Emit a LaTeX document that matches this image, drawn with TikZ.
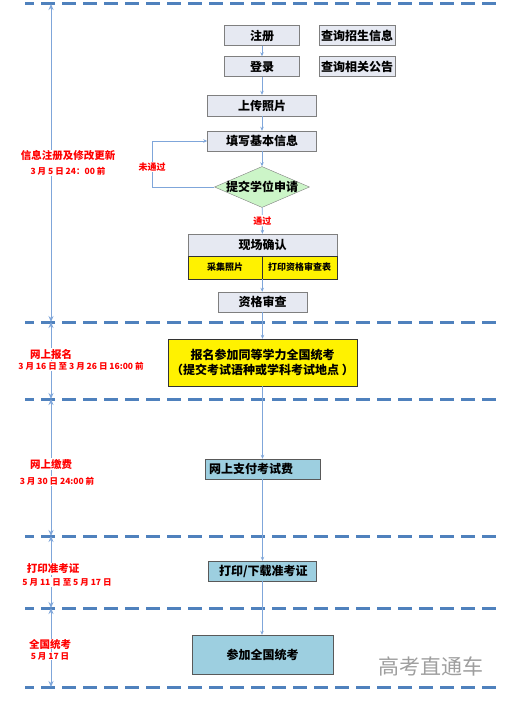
\documentclass[tikz,border=0pt]{standalone}
\usepackage{fontspec}
\usetikzlibrary{arrows.meta,positioning,shapes.geometric}
\newfontfamily\cjk{Noto Sans CJK SC}
\definecolor{boxgray}{HTML}{E6E9F2}
\definecolor{bordgray}{HTML}{7F7F7F}
\definecolor{boxgreen}{HTML}{CCF5C8}
\definecolor{boxblue}{HTML}{9DCFE0}
\definecolor{sepblue}{HTML}{4F81BD}
\definecolor{lineblue}{HTML}{7FA6DA}

\begin{document}
\begin{tikzpicture}[
  x=1pt, y=-1pt,
  base/.style={draw=bordgray, inner sep=0pt, font=\cjk\bfseries\fontsize{12}{15}\selectfont},
  graybox/.style={base, fill=boxgray, minimum height=20pt},
  yelbox/.style={base, draw=black!80, fill=yellow},
  bluebox/.style={base, draw=black!65, fill=boxblue, minimum height=20pt},
  decide/.style={shape=diamond, draw=bordgray, fill=boxgreen, inner sep=0pt, minimum width=95pt, minimum height=41pt},
  boxtext/.style={inner sep=0pt, font=\cjk\bfseries\fontsize{12}{15}\selectfont},
  flow/.style={-{Stealth[length=4pt,width=3.5pt]}, draw=lineblue, line width=0.8pt},
  span/.style={{Stealth[length=6pt,width=5pt]}-{Stealth[length=6pt,width=5pt]}, draw=lineblue, line width=1pt},
  sep/.style={draw=sepblue, line width=3pt, dash pattern=on 14pt off 7pt, dash phase=5pt},
  note/.style={text=red, fill=white, inner sep=1pt, font=\cjk\bfseries\fontsize{9}{10}\selectfont},
  stage/.style={text=red, fill=white, inner sep=1pt, align=center, font=\cjk\bfseries\fontsize{10.5}{15}\selectfont},
  date/.style={text=red, fill=white, inner sep=1pt, font=\cjk\bfseries\fontsize{8.5}{10}\selectfont},
  wmstyle/.style={text=black!38, font=\cjk\fontsize{21}{21}\selectfont}
]
\useasboundingbox (0,0) rectangle (515,706);

% --- Trennlinien ---
\foreach \y [count=\i] in {4,322,399,536,608,687} {
  \coordinate (dl\i) at (25,\y);
  \coordinate (dr\i) at (500,\y);
  \draw[sep] (dl\i) -- (dr\i);
  \coordinate (t\i) at (51,\y);
}

% --- Zeitraeume ---
\foreach \a/\b in {1/2,2/3,3/4,4/5,5/6}
  \draw[span] (t\a) -- (t\b);

\node[stage] (s1) at (68,163) {信息注册及修改更新\\{\fontsize{8.5}{10}\selectfont 3 月 5 日 24：00 前}};
\node[stage] (s2) at (51,354) {网上报名};
\node[date]  (d2) at (81,366) {3 月 16 日 至 3 月 26 日 16:00 前};
\node[stage] (s3) at (51,464) {网上缴费};
\node[date]  (d3) at (57,481) {3 月 30 日 24:00 前};
\node[stage] (s4) at (53,569) {打印准考证};
\node[date]  (d4) at (67,582) {5 月 11 日 至 5 月 17 日};
\node[stage, inner sep=0pt] (s5) at (50,644) {全国统考};
\node[date, inner sep=0pt]  (d5) at (50,656) {5 月 17 日};

% --- Ablauf ---
\node[graybox, minimum width=75pt] (reg)   at (262,35.5) {注册};
\node[graybox, minimum width=76pt] (qinfo) at (357,35.5) {查询招生信息};
\node[graybox, minimum width=75pt] (login) at (262,66.5) {登录};
\node[graybox, minimum width=76pt] (qnews) at (357,66.5) {查询相关公告};
\node[graybox, minimum width=109pt, minimum height=21pt] (upload) at (262,105.5) {上传照片};
\node[graybox, minimum width=109pt] (fill) at (262,141) {填写基本信息};

\node[decide] (apply) at (262,187) {};
\node[boxtext] (applytxt) at (apply) {提交学位申请};

\node[graybox, minimum width=149pt, minimum height=22pt] (onsite) at (262.5,245) {现场确认};
\node[yelbox, minimum width=74pt, minimum height=23pt, font=\cjk\bfseries\fontsize{9}{10}\selectfont] (collect) at (225,267.5) {采集照片};
\node[yelbox, minimum width=75pt, minimum height=23pt, font=\cjk\bfseries\fontsize{9}{10}\selectfont] (printq) at (299.5,267.5) {打印资格审查表};
\node[graybox, minimum width=89pt] (review) at (262.5,302) {资格审查};

\node[yelbox, minimum width=189pt, minimum height=47pt, align=center] (enroll) at (262.5,362.5) {报名参加同等学力全国统考\\（提交考试语种或学科考试地点 ）};
\node[bluebox, minimum width=115pt, text width=107pt, align=left] (pay) at (262.5,469) {网上支付考试费};
\node[bluebox, minimum width=108pt] (admit) at (262,571) {\ 打印/下载准考证};
\node[bluebox, minimum width=141pt, minimum height=39pt] (exam) at (262.5,654.5) {参加全国统考};

% Pfeile
\draw[flow] (reg) -- (login);
\draw[flow] (login) -- (upload);
\draw[flow] (upload) -- (fill);
\draw[flow] (fill) -- (apply);
\draw[flow] (apply) -- node[note] (passlab) {通过} (onsite);
\coordinate (loopc) at (152,187);
\draw[flow] (apply.west) -- (loopc) |- (fill.west);
\node[note] (faillab) at (152,167) {未通过};
\draw[flow] (collect.south east) -- (collect.south east |- review.north);
\draw[flow] (review) -- (review |- enroll.north);
\draw[flow] (enroll) -- (enroll |- pay.north);
\draw[flow] (pay) -- (pay |- admit.north);
\draw[flow] (admit) -- (admit |- exam.north);

\node[wmstyle] (wm) at (431,666) {高考直通车};
\end{tikzpicture}
\end{document}
